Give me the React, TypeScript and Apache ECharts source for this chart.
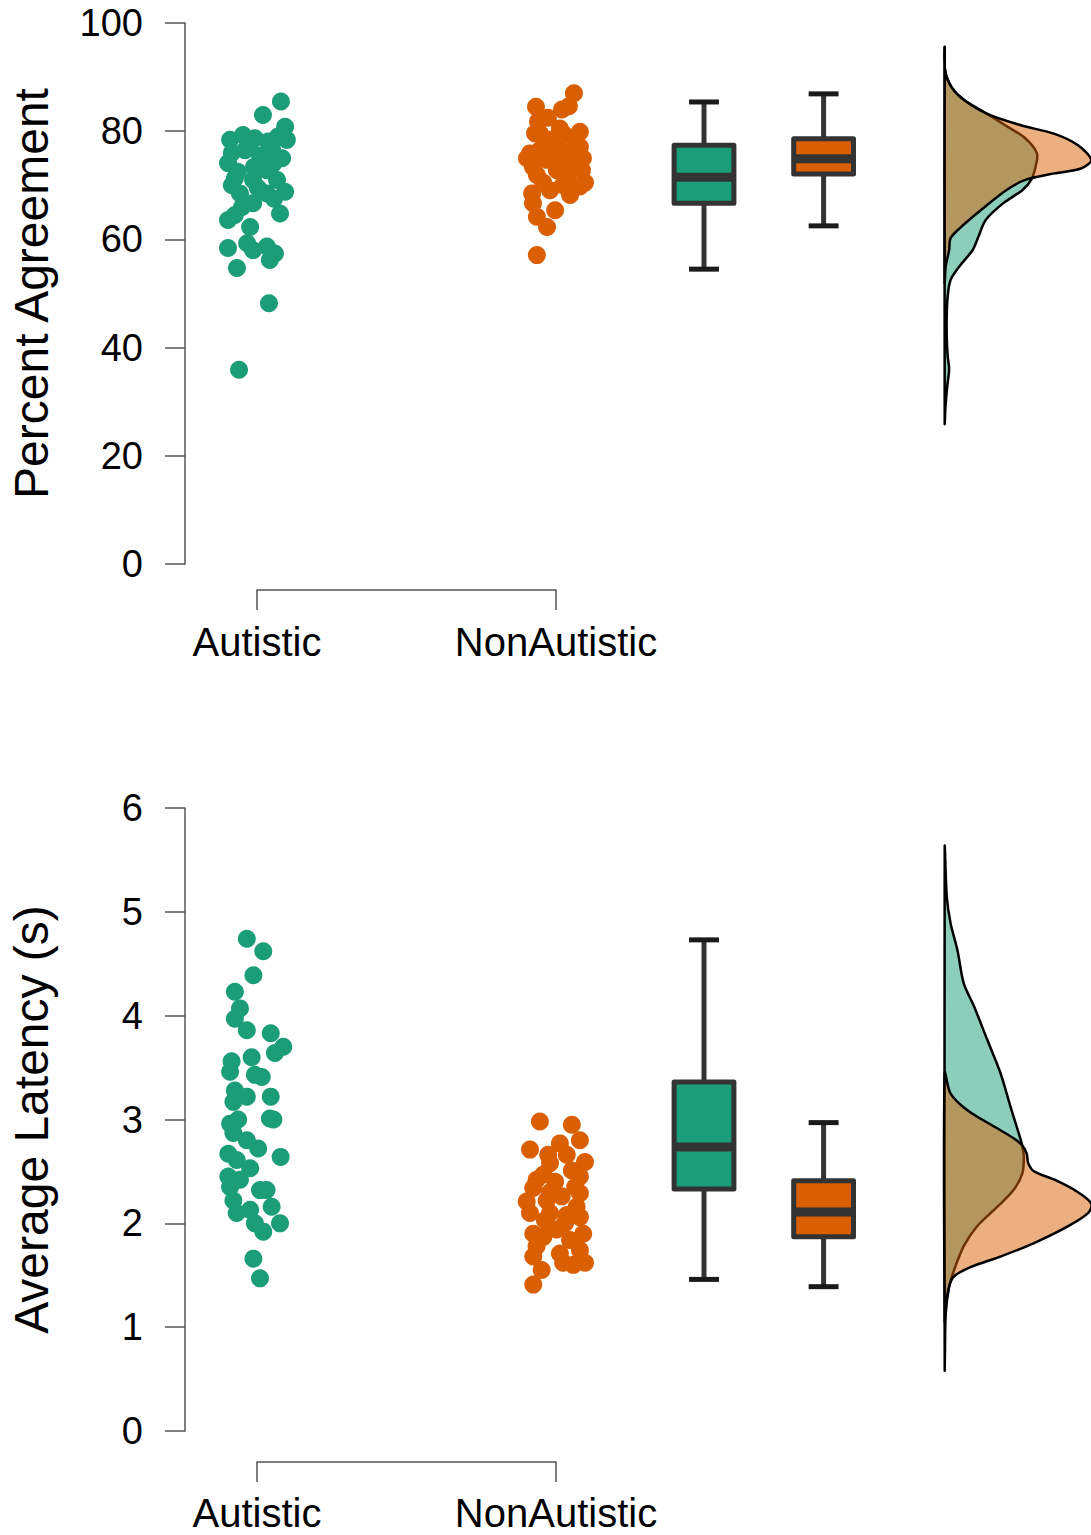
import React, { useEffect, useRef } from "react";
import * as echarts from "echarts";

// ---------- data ----------
const groups = ["Autistic", "NonAutistic"];
const GREEN = "#1b9e77";
const ORANGE = "#d95f02";
const GREEN_FILL = "rgba(27,158,119,0.5)";
const ORANGE_FILL = "rgba(217,95,2,0.5)";

// Percent agreement: [jitter, value]
const agreeAutistic: [number, number][] = [
  [0.080, 85.5], [0.020, 83.0], [0.094, 80.8], [0.100, 78.4], [-0.090, 78.4], [-0.047, 79.3],
  [-0.007, 78.7], [0.037, 78.1], [0.084, 75.0], [-0.097, 74.1], [-0.010, 73.4], [0.033, 72.8],
  [-0.074, 71.3], [0.067, 71.0], [-0.013, 71.0], [0.094, 68.8], [-0.057, 68.5], [0.033, 68.5],
  [-0.013, 66.7], [0.077, 64.8], [-0.097, 63.6], [-0.074, 64.5], [-0.023, 62.3], [-0.033, 59.3],
  [-0.097, 58.4], [0.033, 58.7], [-0.013, 58.0], [0.060, 57.4], [0.043, 56.2], [-0.067, 54.7],
  [0.040, 48.2], [-0.060, 35.9], [-0.084, 76.0], [-0.040, 76.5], [0.010, 75.5], [0.050, 76.8],
  [-0.064, 72.5], [0.003, 69.5], [0.054, 74.0], [0.017, 73.8], [-0.050, 66.0], [0.057, 67.5],
  [-0.084, 70.0], [0.070, 79.0], [-0.023, 77.8],
];
const agreeNonAutistic: [number, number][] = [
  [0.060, 87.0], [-0.067, 84.5], [0.020, 84.0], [0.043, 84.6], [-0.060, 81.8], [-0.054, 79.6],
  [0.080, 79.9], [0.030, 79.3], [-0.070, 79.6], [-0.020, 78.4], [0.080, 77.1], [0.013, 76.5],
  [-0.087, 75.9], [0.090, 75.0], [-0.030, 74.7], [0.047, 74.4], [-0.077, 73.4], [0.003, 72.8],
  [0.087, 72.8], [-0.064, 71.9], [0.037, 71.6], [0.080, 69.8], [-0.080, 68.5], [-0.020, 69.1],
  [0.047, 68.2], [-0.077, 66.7], [-0.003, 65.4], [-0.064, 64.2], [-0.030, 62.3], [-0.064, 57.1],
  [-0.037, 77.0], [0.064, 78.5], [0.013, 80.5], [-0.010, 75.5], [0.064, 73.0], [-0.043, 70.5],
  [0.023, 70.0], [0.097, 70.5], [-0.027, 82.5], [-0.097, 75.0], [0.033, 76.0], [-0.054, 76.5],
  [0.074, 75.5], [0.013, 74.0],
];

// Average latency: [jitter, value]
const latAutistic: [number, number][] = [
  [-0.034, 4.74], [0.021, 4.62], [-0.012, 4.39], [-0.074, 4.23], [-0.057, 4.07], [-0.074, 3.97],
  [-0.034, 3.86], [0.046, 3.83], [0.088, 3.70], [0.060, 3.64], [-0.018, 3.60], [-0.085, 3.56],
  [-0.090, 3.46], [0.016, 3.41], [-0.007, 3.43], [-0.074, 3.28], [-0.034, 3.22], [0.046, 3.22],
  [-0.079, 3.17], [0.043, 3.01], [0.055, 3.00], [-0.090, 2.96], [-0.063, 3.00], [-0.079, 2.87],
  [-0.034, 2.80], [0.004, 2.72], [-0.096, 2.67], [0.079, 2.64], [-0.068, 2.61], [-0.023, 2.53],
  [-0.096, 2.45], [-0.057, 2.42], [-0.090, 2.35], [0.010, 2.32], [0.032, 2.32], [-0.079, 2.22],
  [0.049, 2.16], [-0.068, 2.10], [-0.023, 2.13], [0.077, 2.00], [-0.007, 2.00], [0.021, 1.92],
  [-0.012, 1.66], [0.010, 1.47],
];
const latNonAutistic: [number, number][] = [
  [-0.054, 2.98], [0.053, 2.95], [0.080, 2.80], [-0.087, 2.71], [0.013, 2.77], [-0.026, 2.66],
  [0.036, 2.66], [0.097, 2.59], [-0.020, 2.58], [0.053, 2.51], [-0.065, 2.42], [-0.042, 2.47],
  [0.080, 2.45], [0.080, 2.29], [-0.076, 2.34], [0.019, 2.26], [-0.098, 2.21], [-0.031, 2.22],
  [0.069, 2.16], [-0.087, 2.10], [-0.020, 2.10], [0.036, 2.08], [0.080, 2.06], [-0.076, 1.90],
  [0.002, 1.94], [0.091, 1.90], [0.047, 1.84], [-0.042, 1.87], [-0.065, 1.78], [0.080, 1.74],
  [0.013, 1.71], [-0.076, 1.68], [0.024, 1.62], [0.097, 1.62], [0.058, 1.60], [-0.048, 1.55],
  [-0.076, 1.41], [-0.003, 2.40], [0.030, 2.00], [-0.020, 2.30], [0.064, 2.35], [-0.037, 2.03],
];

// Box statistics: [lower whisker, Q1, median, Q3, upper whisker]
const agreeBoxAutistic = [54.5, 66.7, 71.5, 77.4, 85.4];
const agreeBoxNonAutistic = [62.5, 72.1, 74.9, 78.6, 86.9];
const latBoxAutistic = [1.46, 2.33, 2.735, 3.36, 4.73];
const latBoxNonAutistic = [1.39, 1.87, 2.11, 2.41, 2.97];

// Density curves (relative density) along value
const agreeDensAutVals = [95.4, 91, 88, 85.8, 83.2, 80.8, 78.7, 75.9, 73.4, 71.0, 69.1, 66.7, 63.6, 60.5, 58.0, 55.0, 52.5, 49.4, 46, 42, 38.5, 36, 33, 29, 26];
const agreeDensAut = [0, 0.004, 0.05, 0.13, 0.29, 0.43, 0.55, 0.63, 0.62, 0.59, 0.53, 0.4, 0.28, 0.23, 0.19, 0.1, 0.04, 0.02, 0.014, 0.014, 0.02, 0.03, 0.018, 0.005, 0];
const agreeDensNonVals = [95.4, 91, 88, 85.8, 83.2, 81.1, 79.5, 77.4, 74.7, 73.1, 72.2, 71.0, 69.1, 65.7, 62.0, 60.2, 58.0, 55, 52];
const agreeDensNon = [0, 0.004, 0.05, 0.13, 0.29, 0.52, 0.75, 0.91, 1.0, 0.93, 0.75, 0.55, 0.42, 0.26, 0.1, 0.04, 0.03, 0.007, 0];

const latDensAutVals = [5.62, 5.15, 4.89, 4.63, 4.31, 4.09, 3.77, 3.45, 3.12, 2.8, 2.74, 2.64, 2.48, 2.32, 2.16, 1.97, 1.78, 1.55, 1.39, 1.13, 0.8, 0.59];
const latDensAut = [0, 0.014, 0.04, 0.087, 0.13, 0.2, 0.29, 0.38, 0.45, 0.52, 0.53, 0.54, 0.53, 0.47, 0.36, 0.22, 0.13, 0.064, 0.03, 0.007, 0.002, 0];
const latDensNonVals = [3.45, 3.25, 3.09, 2.93, 2.82, 2.75, 2.67, 2.58, 2.5, 2.42, 2.3, 2.19, 2.1, 1.97, 1.81, 1.68, 1.58, 1.49, 1.39, 1.2, 1.05];
const latDensNon = [0, 0.04, 0.155, 0.34, 0.47, 0.53, 0.56, 0.57, 0.61, 0.75, 0.91, 1.0, 0.98, 0.84, 0.61, 0.38, 0.18, 0.064, 0.03, 0.007, 0];

// ---------- layout constants ----------
const FONT = "'Liberation Sans', Arial, sans-serif";
const X_MIN = 0.7592;
const X_MAX = 3.7893;
const BOX_POS = [2.495, 2.895];
const DENS_X = 3.3;
const DENS_SCALE = 0.49;
const BOX_HALF = 0.1;
const CAP_HALF = 0.05;

function scatter(grid: number, center: number, pts: [number, number][], color: string) {
  return {
    type: "scatter",
    xAxisIndex: grid,
    yAxisIndex: grid,
    symbol: "circle",
    symbolSize: 18,
    itemStyle: { color, opacity: 1 },
    data: pts.map(([j, v]) => [center + j, v]),
    z: 3,
  };
}

function box(grid: number, pos: number, stats: number[], color: string) {
  return {
    type: "custom",
    xAxisIndex: grid,
    yAxisIndex: grid,
    data: [[pos, ...stats]],
    encode: { x: 0, y: [1, 2, 3, 4, 5] },
    renderItem: (params: any, api: any) => {
      const x = api.value(0);
      const lo = api.coord([x, api.value(1)]);
      const q1 = api.coord([x, api.value(2)]);
      const md = api.coord([x, api.value(3)]);
      const q3 = api.coord([x, api.value(4)]);
      const hi = api.coord([x, api.value(5)]);
      const hw = api.size([BOX_HALF, 0])[0];
      const cw = api.size([CAP_HALF, 0])[0];
      const stroke = "#333333";
      return {
        type: "group",
        children: [
          { type: "line", shape: { x1: hi[0], y1: hi[1], x2: q3[0], y2: q3[1] }, style: { stroke, lineWidth: 5 } },
          { type: "line", shape: { x1: q1[0], y1: q1[1], x2: lo[0], y2: lo[1] }, style: { stroke, lineWidth: 5 } },
          { type: "line", shape: { x1: hi[0] - cw, y1: hi[1], x2: hi[0] + cw, y2: hi[1] }, style: { stroke: "#1a1a1a", lineWidth: 5 } },
          { type: "line", shape: { x1: lo[0] - cw, y1: lo[1], x2: lo[0] + cw, y2: lo[1] }, style: { stroke: "#1a1a1a", lineWidth: 5 } },
          {
            type: "rect",
            shape: { x: q3[0] - hw, y: q3[1], width: 2 * hw, height: q1[1] - q3[1] },
            style: { fill: color, stroke, lineWidth: 5, lineJoin: "round" },
          },
          { type: "line", shape: { x1: md[0] - hw, y1: md[1], x2: md[0] + hw, y2: md[1] }, style: { stroke, lineWidth: 9 } },
        ],
      };
    },
    z: 3,
  };
}

function density(grid: number, vals: number[], dens: number[], fill: string) {
  return {
    type: "custom",
    xAxisIndex: grid,
    yAxisIndex: grid,
    data: [[DENS_X, vals[0]]],
    renderItem: (params: any, api: any) => {
      const pts = vals.map((v, i) => api.coord([DENS_X + dens[i] * DENS_SCALE, v]));
      return {
        type: "polygon",
        shape: { points: pts, smooth: 0.3 },
        style: { fill, stroke: "#000", lineWidth: 2.5, lineJoin: "round" },
      };
    },
    z: 4,
  };
}

const axisLineStyle = { color: "#555", width: 1.5 };

function valueY(grid: number, min: number, max: number, interval: number, name: string) {
  return {
    gridIndex: grid,
    type: "value",
    min,
    max,
    interval,
    name,
    nameLocation: "middle",
    nameGap: 130,
    nameTextStyle: { fontSize: 48, color: "#000", fontFamily: FONT },
    axisLine: { show: true, lineStyle: axisLineStyle },
    axisTick: { show: true, length: 20, lineStyle: axisLineStyle },
    axisLabel: { fontSize: 38, color: "#000", margin: 42, fontFamily: FONT },
    splitLine: { show: false },
  };
}

function bracketX(grid: number, margin: number) {
  return {
    gridIndex: grid,
    type: "category",
    data: groups,
    boundaryGap: false,
    axisLine: { show: true, lineStyle: axisLineStyle },
    axisTick: { show: true, length: 20, lineStyle: axisLineStyle },
    axisLabel: { fontSize: 40, color: "#000", margin, fontFamily: FONT, interval: 0 },
    splitLine: { show: false },
  };
}

export default function App() {
  const ref = useRef<HTMLDivElement>(null);
  useEffect(() => {
    if (!ref.current) return;
    const chart = echarts.init(ref.current, null, { renderer: "svg" });
    const option: any = {
      animation: false,
      backgroundColor: "#fff",
      textStyle: { fontFamily: FONT },
      grid: [
        { left: 185, top: 23, height: 541, right: 0, outerBoundsMode: "none" },
        { left: 185, top: 808, height: 623, right: 0, outerBoundsMode: "none" },
        { left: 257, top: 580, height: 10, width: 299, outerBoundsMode: "none" },
        { left: 257, top: 1452, height: 10, width: 299, outerBoundsMode: "none" },
      ],
      xAxis: [
        { gridIndex: 0, type: "value", min: X_MIN, max: X_MAX, show: false },
        { gridIndex: 1, type: "value", min: X_MIN, max: X_MAX, show: false },
        bracketX(2, 32),
        bracketX(3, 31),
      ],
      yAxis: [
        valueY(0, 0, 100, 20, "Percent Agreement"),
        valueY(1, 0, 6, 1, "Average Latency (s)"),
        { gridIndex: 2, type: "value", show: false },
        { gridIndex: 3, type: "value", show: false },
      ],
      series: [
        scatter(0, 1, agreeAutistic, GREEN),
        scatter(0, 2, agreeNonAutistic, ORANGE),
        box(0, BOX_POS[0], agreeBoxAutistic, GREEN),
        box(0, BOX_POS[1], agreeBoxNonAutistic, ORANGE),
        density(0, agreeDensAutVals, agreeDensAut, GREEN_FILL),
        density(0, agreeDensNonVals, agreeDensNon, ORANGE_FILL),
        scatter(1, 1, latAutistic, GREEN),
        scatter(1, 2, latNonAutistic, ORANGE),
        box(1, BOX_POS[0], latBoxAutistic, GREEN),
        box(1, BOX_POS[1], latBoxNonAutistic, ORANGE),
        density(1, latDensAutVals, latDensAut, GREEN_FILL),
        density(1, latDensNonVals, latDensNon, ORANGE_FILL),
      ],
    };
    chart.setOption(option);
    return () => chart.dispose();
  }, []);
  return (
    <div
      ref={ref}
      style={{ position: "absolute", left: 0, top: 0, width: 1091, height: 1535, background: "#fff" }}
    />
  );
}
